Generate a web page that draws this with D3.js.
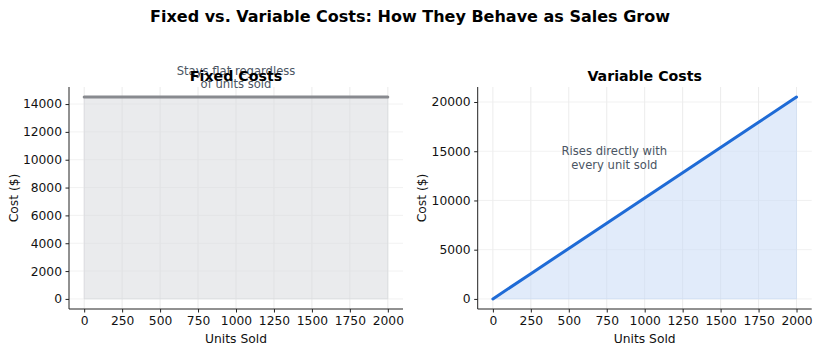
<!DOCTYPE html>
<html><head><meta charset="utf-8">
<script src="https://cdn.jsdelivr.net/npm/d3@7"></script>
<style>body{margin:0;background:#fff}svg{display:block;font-family:"DejaVu Sans",sans-serif}</style>
</head><body><svg id="c" width="820" height="354"></svg>
<script>
const units = [0, 250, 500, 750, 1000, 1250, 1500, 1750, 2000];
const fixedCosts = [14500, 14500, 14500, 14500, 14500, 14500, 14500, 14500, 14500];
const variableCosts = [0, 2562.5, 5125, 7687.5, 10250, 12812.5, 15375, 17937.5, 20500];
const xTicks = [0, 250, 500, 750, 1000, 1250, 1500, 1750, 2000];
const fixedYTicks = [0, 2000, 4000, 6000, 8000, 10000, 12000, 14000];
const variableYTicks = [0, 5000, 10000, 15000, 20000];

const svg = d3.select("#c");
svg.append("text").attr("x", 410).attr("y", 22).attr("text-anchor", "middle")
  .attr("font-size", 16).attr("font-weight", "bold").attr("fill", "#000")
  .text("Fixed vs. Variable Costs: How They Behave as Sales Grow");

function panel(opt) {
  const {left, right, top, bottom, values, yTicks, color, fill, fillOpacity, title, note, noteX, noteY, ylabelX} = opt;
  const x = d3.scaleLinear().domain([-100, 2100]).range([left, right]);
  const ymax = d3.max(values);
  const pad = ymax * 0.05;
  const y = d3.scaleLinear().domain([-pad, ymax + pad]).range([bottom, top]);
  const g = svg.append("g");
  g.append("g").selectAll("line").data(xTicks).join("line")
    .attr("x1", d => x(d)).attr("x2", d => x(d)).attr("y1", top).attr("y2", bottom)
    .attr("stroke", "#e6e6e6").attr("stroke-width", 0.8);
  g.append("g").selectAll("line").data(yTicks).join("line")
    .attr("x1", left).attr("x2", right).attr("y1", d => y(d)).attr("y2", d => y(d))
    .attr("stroke", "#eeeeee").attr("stroke-width", 0.8);
  const pts = units.map((u, i) => [u, values[i]]);
  g.append("path").datum(pts)
    .attr("d", d3.area().x(d => x(d[0])).y0(y(0)).y1(d => y(d[1])))
    .attr("fill", fill).attr("fill-opacity", fillOpacity)
    .attr("stroke", fill).attr("stroke-opacity", 0.5).attr("stroke-width", 1);
  g.append("path").datum(pts)
    .attr("d", d3.line().x(d => x(d[0])).y(d => y(d[1])))
    .attr("fill", "none").attr("stroke", color).attr("stroke-width", 3).attr("stroke-linecap", "round");
  const xa = g.append("g").attr("transform", `translate(0,${bottom})`)
    .call(d3.axisBottom(x).tickValues(xTicks).tickSize(3.5).tickPadding(3.5).tickFormat(d3.format("d")));
  const ya = g.append("g").attr("transform", `translate(${left},0)`)
    .call(d3.axisLeft(y).tickValues(yTicks).tickSize(3.5).tickPadding(3.5).tickFormat(d3.format("d")));
  [xa, ya].forEach(a => {
    a.select(".domain").attr("stroke", "#222").attr("stroke-width", 1);
    a.selectAll(".tick line").attr("stroke", "#222");
    a.selectAll(".tick text").attr("font-size", 12.3).attr("fill", "#111").attr("font-family", "DejaVu Sans");
  });
  xa.select(".domain").attr("d", `M${left},0H${right}`);
  ya.select(".domain").attr("d", `M0,${top}V${bottom}`);
  const cx = (left + right) / 2;
  g.append("text").attr("x", cx).attr("y", 343).attr("text-anchor", "middle")
    .attr("font-size", 12.3).attr("fill", "#111").text("Units Sold");
  g.append("text").attr("transform", `translate(${ylabelX},${(top + bottom) / 2}) rotate(-90)`)
    .attr("text-anchor", "middle").attr("dy", "0.35em").attr("font-size", 12.3).attr("fill", "#111").text("Cost ($)");
  const nt = g.append("text").attr("x", x(noteX)).attr("y", y(noteY)).attr("text-anchor", "middle")
    .attr("font-size", 11.6).attr("fill", "#4b5563");
  note.forEach((t, i) => nt.append("tspan").attr("x", x(noteX)).attr("dy", i === 0 ? "-0.2em" : "1.15em").text(t));
  g.append("text").attr("x", cx).attr("y", 81).attr("text-anchor", "middle")
    .attr("font-size", 14.2).attr("font-weight", "bold").attr("fill", "#000").text(title);
}

panel({left: 69, right: 403, top: 87, bottom: 309, values: fixedCosts, yTicks: fixedYTicks,
  color: "#888a8f", fill: "#d5d8dc", fillOpacity: 0.5, title: "Fixed Costs",
  note: ["Stays flat regardless", "of units sold"], noteX: 1000, noteY: 15950, ylabelX: 13.5});
panel({left: 477.7, right: 811.7, top: 87, bottom: 309, values: variableCosts, yTicks: variableYTicks,
  color: "#1f6bd6", fill: "#c9dbf6", fillOpacity: 0.55, title: "Variable Costs",
  note: ["Rises directly with", "every unit sold"], noteX: 800, noteY: 14350, ylabelX: 422});
</script></body></html>
